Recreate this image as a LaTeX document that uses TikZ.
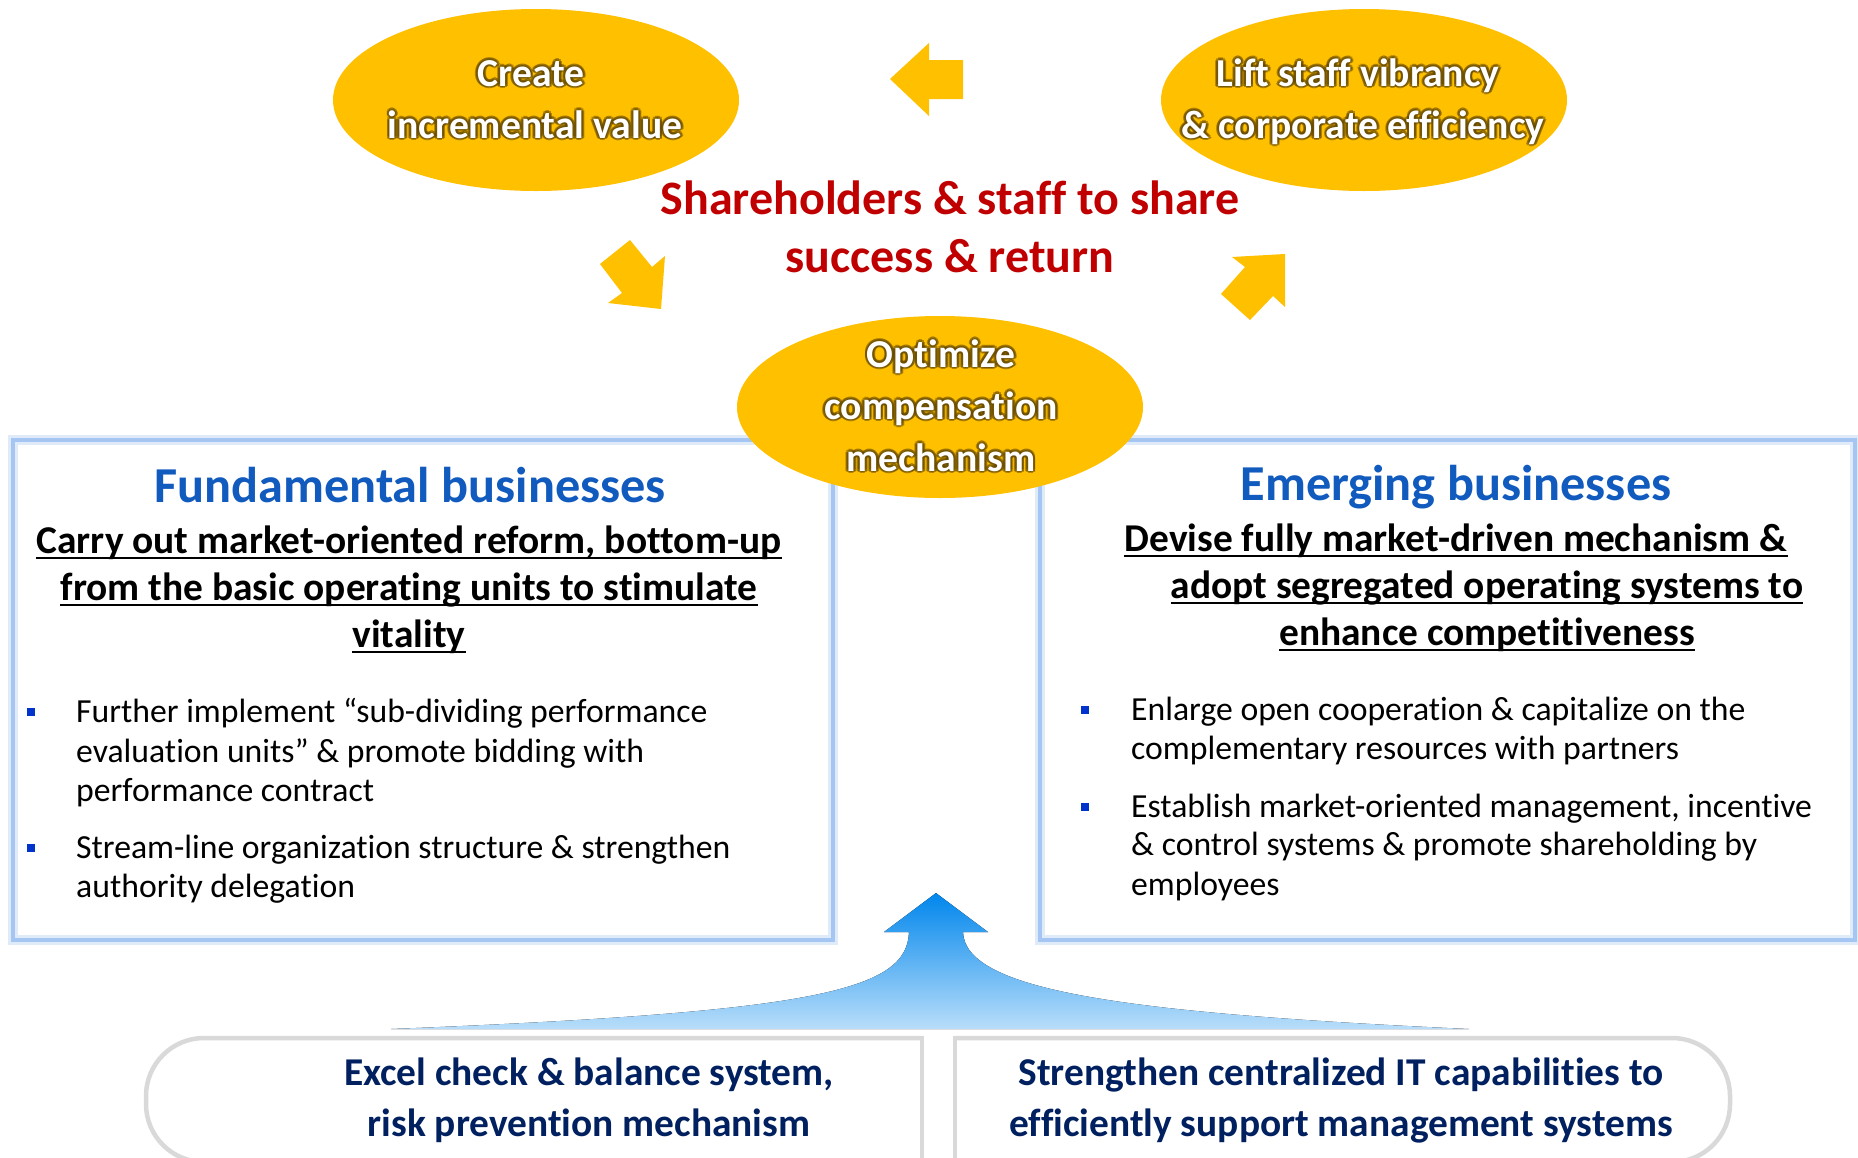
\documentclass[tikz,border=0pt]{standalone}
\usepackage{fontspec}
\setmainfont{Carlito}[Ligatures=NoCommon]
\usetikzlibrary{calc,shapes.geometric}
\definecolor{gold}{RGB}{255,192,0}
\definecolor{glowc}{RGB}{100,72,0}
\definecolor{redh}{RGB}{192,0,0}
\definecolor{titleblue}{RGB}{17,90,190}
\definecolor{navy}{RGB}{0,32,96}
\definecolor{bulletblue}{RGB}{0,51,204}
\definecolor{boxline}{RGB}{165,198,242}
\definecolor{boxglow}{RGB}{224,235,250}
\definecolor{graybox}{RGB}{217,217,217}
\definecolor{arrtop}{RGB}{0,134,236}
\definecolor{arrbot}{RGB}{185,222,250}
\newcommand{\glowtext}[3]{%
  \foreach \ang in {0,45,...,315}{\node[ellfont,text=glowc,opacity=0.5] at ($(#2)+(\ang:2.8)$) {#3};}
  \node[ellfont,text=white] (#1) at (#2) {#3};}
\begin{document}
\begin{tikzpicture}[x=1pt,y=-1pt,
  goldell/.style={ellipse, fill=gold, minimum width=406pt, minimum height=182pt, inner sep=0pt},
  ellfont/.style={font=\fontsize{39.6}{47}\selectfont\bfseries, inner sep=0pt, anchor=base},
  redfont/.style={font=\fontsize{48}{58}\selectfont\bfseries, text=redh, inner sep=0pt, anchor=base},
  titlefont/.style={font=\fontsize{50.3}{60}\selectfont\bfseries, text=titleblue, inner sep=0pt, anchor=base},
  subfont/.style={font=\fontsize{39.4}{47}\selectfont\bfseries, text=black, inner sep=0pt, anchor=base},
  bodyfont/.style={font=\fontsize{33.7}{40}\selectfont, text=black, inner sep=0pt, anchor=base west},
  navyfont/.style={font=\fontsize{39.4}{51}\selectfont\bfseries, text=navy, inner sep=0pt, anchor=base},
  uline/.style={line width=2.5pt, black},
  bigbox/.style={draw=boxline, line width=3.5pt, inner sep=0pt, preaction={draw=boxglow, line width=10pt}},
  bul/.style={fill=bulletblue, minimum size=8pt, inner sep=0pt},
  gbox/.style={draw=graybox, line width=4.5pt},
  goldarrow/.style={fill=gold}
]
\useasboundingbox (0,0) rectangle (1858,1157);
\fill[white] (0,0) rectangle (1858,1157);
\clip (0,0) rectangle (1858,1157);

% top boxes
\node[bigbox, minimum width=820pt, minimum height=500pt] (lbox) at (423,690) {};
\node[bigbox, minimum width=815pt, minimum height=500pt] (rbox) at (1447.5,690) {};

% ellipses
\node[goldell] (e1) at (536,100) {};
\node[goldell] (e2) at (1364,100) {};
\node[goldell] (e3) at (940,407) {};

\glowtext{t1a}{531,86}{Create}
\glowtext{t1b}{535,138}{incremental value}
\glowtext{t2a}{1358,86}{Lift staff vibrancy}
\glowtext{t2b}{1363,138}{\& corporate efficiency}
\glowtext{t3a}{941,367}{Optimize}
\glowtext{t3b}{941,419}{compensation}
\glowtext{t3c}{941,471}{mechanism}

% red heading
\node[redfont] (h1) at (950,214) {Shareholders \& staff to share};
\node[redfont] (h2) at (950,272) {success \& return};

% gold arrows
\fill[goldarrow] (890,79) -- (929,43) -- (929,60) -- (963,60) -- (963,99) -- (929,99) -- (929,116) -- cycle;
\fill[goldarrow] (630,240) -- (600,264) -- (622,293) -- (608,303) -- (661,309) -- (665,256) -- (652,267) -- cycle;
\fill[goldarrow] (1221,294) -- (1250,320) -- (1273,296) -- (1285,307) -- (1285,254) -- (1232,257) -- (1245,267) -- cycle;

% left box content
\node[titlefont] (lt) at (410,502) {Fundamental businesses};
\node[subfont] (ls1) at (409,553) {Carry out market-oriented reform, bottom-up};
\node[subfont] (ls2) at (409,600) {from the basic operating units to stimulate};
\node[subfont] (ls3) at (409,647) {vitality};
\foreach \n in {ls1,ls2,ls3}{\draw[uline] ([yshift=-5pt]\n.base west) -- ([yshift=-5pt]\n.base east);}

\node[bul] (lb1) at (31,712) {};
\node[bodyfont] (lp1) at (76,722) {Further implement “sub-dividing performance};
\node[bodyfont] (lp2) at (76,762) {evaluation units” \& promote bidding with};
\node[bodyfont] (lp3) at (76,801) {performance contract};
\node[bul] (lb2) at (31,848) {};
\node[bodyfont] (lp4) at (76,858) {Stream-line organization structure \& strengthen};
\node[bodyfont] (lp5) at (76,897) {authority delegation};

% right box content
\node[titlefont] (rt) at (1456,500) {Emerging businesses};
\node[subfont] (rs1) at (1456,551) {Devise fully market-driven mechanism \&};
\node[subfont] (rs2) at (1487,598) {adopt segregated operating systems to};
\node[subfont] (rs3) at (1487,645) {enhance competitiveness};
\foreach \n in {rs1,rs2,rs3}{\draw[uline] ([yshift=-5pt]\n.base west) -- ([yshift=-5pt]\n.base east);}

\node[bul] (rb1) at (1085,710) {};
\node[bodyfont] (rp1) at (1131,720) {Enlarge open cooperation \& capitalize on the};
\node[bodyfont] (rp2) at (1131,759) {complementary resources with partners};
\node[bul] (rb2) at (1085,807) {};
\node[bodyfont] (rp3) at (1131,817) {Establish market-oriented management, incentive};
\node[bodyfont] (rp4) at (1131,855) {\& control systems \& promote shareholding by};
\node[bodyfont] (rp5) at (1131,895) {employees};

% blue arrow
\fill[top color=arrtop, bottom color=arrbot] (936,893) -- (988,932) -- (963,932)
  .. controls (965,990) and (1120,1013) .. (1469,1029) -- (391,1029)
  .. controls (820,1012) and (907,990) .. (909,932) -- (884,932) -- cycle;

% bottom boxes
\draw[gbox, rounded corners=58pt] (922,1038) -- (146,1038) -- (146,1162) -- (922,1162);
\draw[gbox, line cap=rect] (922,1038) -- (922,1170);
\draw[gbox, rounded corners=58pt] (955,1038) -- (1730,1038) -- (1730,1162) -- (955,1162);
\draw[gbox, line cap=rect] (955,1038) -- (955,1170);

\node[navyfont] (b1) at (589,1085) {Excel check \& balance system,};
\node[navyfont] (b2) at (589,1136) {risk prevention mechanism};
\node[navyfont] (b3) at (1341,1085) {Strengthen centralized IT capabilities to};
\node[navyfont] (b4) at (1341,1136) {efficiently support management systems};
\end{tikzpicture}
\end{document}
